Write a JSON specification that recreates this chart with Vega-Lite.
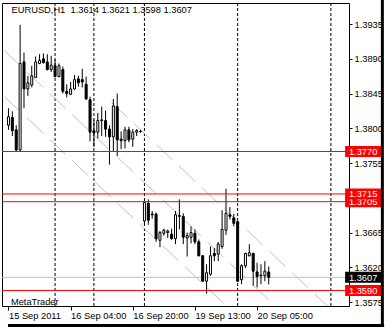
{
  "$schema": "https://vega.github.io/schema/vega-lite/v6.json",
  "width": 347,
  "height": 303,
  "autosize": {"type": "none"},
  "padding": {"left": 2, "top": 3, "right": 41, "bottom": 21},
  "background": "white",
  "config": {
    "view": {"stroke": "black", "strokeWidth": 1},
    "font": "Liberation Sans",
    "axis": {"labelFont": "Liberation Sans", "labelFontSize": 9.3, "labelColor": "black", "tickColor": "black", "domain": false, "grid": false, "labelOverlap": false, "labelBound": false, "labelFlush": false}
  },
  "datasets": {
    "candles": [
      {"i":0,"o":1.3804,"h":1.3826,"l":1.3798,"c":1.3815},
      {"i":1,"o":1.3814,"h":1.3822,"l":1.3790,"c":1.3797},
      {"i":2,"o":1.3798,"h":1.3804,"l":1.3770,"c":1.3772},
      {"i":3,"o":1.3772,"h":1.3934,"l":1.3770,"c":1.3884},
      {"i":4,"o":1.3886,"h":1.3898,"l":1.3826,"c":1.3851},
      {"i":5,"o":1.3851,"h":1.3868,"l":1.3842,"c":1.3859},
      {"i":6,"o":1.3856,"h":1.3881,"l":1.3853,"c":1.3868},
      {"i":7,"o":1.3866,"h":1.3893,"l":1.3865,"c":1.3886},
      {"i":8,"o":1.3884,"h":1.3896,"l":1.3883,"c":1.3888},
      {"i":9,"o":1.3890,"h":1.3897,"l":1.3884,"c":1.3885},
      {"i":10,"o":1.3886,"h":1.3896,"l":1.3875,"c":1.3876},
      {"i":11,"o":1.3876,"h":1.3894,"l":1.3873,"c":1.3882},
      {"i":12,"o":1.3881,"h":1.3889,"l":1.3866,"c":1.3867},
      {"i":13,"o":1.3867,"h":1.3884,"l":1.3866,"c":1.3881},
      {"i":14,"o":1.3876,"h":1.3880,"l":1.3845,"c":1.3848},
      {"i":15,"o":1.3848,"h":1.3857,"l":1.3840,"c":1.3845},
      {"i":16,"o":1.3844,"h":1.3860,"l":1.3843,"c":1.3851},
      {"i":17,"o":1.3851,"h":1.3869,"l":1.3850,"c":1.3863},
      {"i":18,"o":1.3864,"h":1.3868,"l":1.3854,"c":1.3859},
      {"i":19,"o":1.3863,"h":1.3877,"l":1.3853,"c":1.3860},
      {"i":20,"o":1.3857,"h":1.3867,"l":1.3837,"c":1.3838},
      {"i":21,"o":1.3837,"h":1.3841,"l":1.3783,"c":1.3795},
      {"i":22,"o":1.3797,"h":1.3811,"l":1.3776,"c":1.3794},
      {"i":23,"o":1.3795,"h":1.3820,"l":1.3787,"c":1.3810},
      {"i":24,"o":1.3810,"h":1.3828,"l":1.3790,"c":1.3811},
      {"i":25,"o":1.3810,"h":1.3823,"l":1.3789,"c":1.3799},
      {"i":26,"o":1.3799,"h":1.3804,"l":1.3753,"c":1.3789},
      {"i":27,"o":1.3789,"h":1.3838,"l":1.3770,"c":1.3829},
      {"i":28,"o":1.3828,"h":1.3845,"l":1.3764,"c":1.3785},
      {"i":29,"o":1.3786,"h":1.3796,"l":1.3773,"c":1.3784},
      {"i":30,"o":1.3784,"h":1.3802,"l":1.3774,"c":1.3798},
      {"i":31,"o":1.3798,"h":1.3802,"l":1.3782,"c":1.3785},
      {"i":32,"o":1.3786,"h":1.3799,"l":1.3776,"c":1.3795},
      {"i":33,"o":1.3795,"h":1.3799,"l":1.3790,"c":1.3797},
      {"i":34,"o":1.3796,"h":1.3798,"l":1.3794,"c":1.3796},
      {"i":35,"o":1.3680,"h":1.3706,"l":1.3675,"c":1.3704},
      {"i":36,"o":1.3703,"h":1.3708,"l":1.3675,"c":1.3681},
      {"i":37,"o":1.3689,"h":1.3693,"l":1.3683,"c":1.3688},
      {"i":38,"o":1.3689,"h":1.3691,"l":1.3653,"c":1.3657},
      {"i":39,"o":1.3655,"h":1.3667,"l":1.3646,"c":1.3665},
      {"i":40,"o":1.3664,"h":1.3670,"l":1.3661,"c":1.3668},
      {"i":41,"o":1.3665,"h":1.3669,"l":1.3658,"c":1.3667},
      {"i":42,"o":1.3663,"h":1.3670,"l":1.3656,"c":1.3657},
      {"i":43,"o":1.3657,"h":1.3693,"l":1.3650,"c":1.3688},
      {"i":44,"o":1.3687,"h":1.3708,"l":1.3669,"c":1.3686},
      {"i":45,"o":1.3686,"h":1.3690,"l":1.3650,"c":1.3659},
      {"i":46,"o":1.3658,"h":1.3665,"l":1.3634,"c":1.3661},
      {"i":47,"o":1.3659,"h":1.3673,"l":1.3651,"c":1.3665},
      {"i":48,"o":1.3664,"h":1.3669,"l":1.3650,"c":1.3653},
      {"i":49,"o":1.3653,"h":1.3656,"l":1.3634,"c":1.3635},
      {"i":50,"o":1.3635,"h":1.3636,"l":1.3601,"c":1.3602},
      {"i":51,"o":1.3602,"h":1.3624,"l":1.3586,"c":1.3613},
      {"i":52,"o":1.3611,"h":1.3647,"l":1.3609,"c":1.3635},
      {"i":53,"o":1.3638,"h":1.3645,"l":1.3628,"c":1.3635},
      {"i":54,"o":1.3637,"h":1.3653,"l":1.3628,"c":1.3650},
      {"i":55,"o":1.3647,"h":1.3694,"l":1.3644,"c":1.3669},
      {"i":56,"o":1.3668,"h":1.3722,"l":1.3662,"c":1.3690},
      {"i":57,"o":1.3688,"h":1.3698,"l":1.3682,"c":1.3686},
      {"i":58,"o":1.3684,"h":1.3689,"l":1.3673,"c":1.3677},
      {"i":59,"o":1.3679,"h":1.3680,"l":1.3601,"c":1.3602},
      {"i":60,"o":1.3604,"h":1.3624,"l":1.3598,"c":1.3622},
      {"i":61,"o":1.3622,"h":1.3639,"l":1.3619,"c":1.3638},
      {"i":62,"o":1.3635,"h":1.3650,"l":1.3634,"c":1.3639},
      {"i":63,"o":1.3638,"h":1.3639,"l":1.3596,"c":1.3615},
      {"i":64,"o":1.3614,"h":1.3626,"l":1.3594,"c":1.3608},
      {"i":65,"o":1.3609,"h":1.3624,"l":1.3598,"c":1.3610},
      {"i":66,"o":1.3609,"h":1.3628,"l":1.3602,"c":1.3615},
      {"i":67,"o":1.3614,"h":1.3621,"l":1.3598,"c":1.3607}
    ],
    "levels": [
      {"price":1.3607,"kind":"bid"},
      {"price":1.3590,"kind":"level"},
      {"price":1.3770,"kind":"level"},
      {"price":1.3705,"kind":"level"},
      {"price":1.3715,"kind":"level"}
    ],
    "seps": [{"i":12},{"i":22},{"i":35},{"i":59},{"i":83}],
    "channel": [
      {"line":"upper","i":26.5,"p":1.38336},
      {"line":"upper","i":90,"p":1.35326},
      {"line":"middle","i":-1,"p":1.39003},
      {"line":"middle","i":90,"p":1.34689},
      {"line":"lower","i":-1,"p":1.38408},
      {"line":"lower","i":90,"p":1.34095}
    ]
  },
  "layer": [
    {
      "data": {"name": "seps"},
      "mark": {"type": "rule", "color": "black", "strokeWidth": 1, "strokeDash": [3, 2]},
      "encoding": {
        "x": {"field": "i", "type": "quantitative", "title": null, "scale": {"domain": [-0.375, 86.375], "nice": false, "zero": false}}
      }
    },
    {
      "data": {"name": "channel"},
      "mark": {"type": "line", "color": "#c0c0c0", "strokeWidth": 1, "strokeDash": [22, 9], "clip": true},
      "encoding": {
        "x": {"field": "i", "type": "quantitative", "title": null, "scale": {"domain": [-0.375, 86.375], "nice": false, "zero": false}},
        "y": {"field": "p", "type": "quantitative", "title": null, "scale": {"domain": [1.35699, 1.39623], "nice": false, "zero": false}},
        "detail": {"field": "line"}
      }
    },
    {
      "data": {"name": "levels"},
      "transform": [{"filter": "datum.kind == 'bid'"}],
      "mark": {"type": "rule", "color": "#c0c0c0", "strokeWidth": 1},
      "encoding": {
        "y": {"field": "price", "type": "quantitative", "title": null, "scale": {"domain": [1.35699, 1.39623], "nice": false, "zero": false}}
      }
    },
    {
      "data": {"name": "candles"},
      "mark": {"type": "rule", "color": "black", "strokeWidth": 1},
      "encoding": {
        "x": {"field": "i", "type": "quantitative", "title": null, "scale": {"domain": [-0.375, 86.375], "nice": false, "zero": false}},
        "y": {"field": "l", "type": "quantitative", "title": null, "scale": {"domain": [1.35699, 1.39623], "nice": false, "zero": false}},
        "y2": {"field": "h"}
      }
    },
    {
      "data": {"name": "candles"},
      "mark": {"type": "bar", "width": 2, "stroke": "black", "strokeWidth": 1},
      "encoding": {
        "x": {"field": "i", "type": "quantitative", "title": null, "scale": {"domain": [-0.375, 86.375], "nice": false, "zero": false},
          "axis": {"values": [0, 16, 32, 48, 64], "tickCount": 20, "labelExpr": "datum.value == 0 ? '15 Sep 2011' : datum.value == 16 ? '16 Sep 04:00' : datum.value == 32 ? '16 Sep 20:00' : datum.value == 48 ? '19 Sep 13:00' : '20 Sep 05:00'", "labelAlign": "left", "labelBaseline": "top", "tickSize": 4, "labelPadding": 1, "labelOverlap": false, "labelBound": false, "labelFlush": false}},
        "y": {"field": "o", "type": "quantitative", "title": null, "scale": {"domain": [1.35699, 1.39623], "nice": false, "zero": false},
          "axis": {"orient": "right", "values": [1.3575, 1.362, 1.3665, 1.371, 1.3755, 1.38, 1.3845, 1.389, 1.3935], "tickCount": 20, "format": ".4f", "tickSize": 3, "labelPadding": 2, "labelOverlap": false, "labelBound": false, "labelFlush": false}},
        "y2": {"field": "c"},
        "fill": {"condition": {"test": "datum.c < datum.o", "value": "black"}, "value": "white"}
      }
    },
    {
      "data": {"name": "levels"},
      "transform": [{"filter": "datum.kind == 'level'"}],
      "mark": {"type": "rule", "color": "#ff0000", "strokeWidth": 1},
      "encoding": {
        "y": {"field": "price", "type": "quantitative", "title": null, "scale": {"domain": [1.35699, 1.39623], "nice": false, "zero": false}}
      }
    },
    {
      "data": {"name": "levels"},
      "transform": [{"filter": "datum.price != 1.3715"}],
      "layer": [
        {
          "mark": {"type": "point", "shape": "M-1.8,-0.55L1.8,-0.55L1.8,0.55L-1.8,0.55Z", "size": 400, "filled": true, "opacity": 1, "strokeWidth": 0},
          "encoding": {
            "x": {"datum": 91.3, "type": "quantitative", "title": null, "scale": {"domain": [-0.375, 86.375], "nice": false, "zero": false}},
            "y": {"field": "price", "type": "quantitative", "title": null, "scale": {"domain": [1.35699, 1.39623], "nice": false, "zero": false}},
            "color": {"field": "kind", "type": "nominal", "legend": null, "scale": {"domain": ["level", "bid"], "range": ["#ff0000", "#000000"]}}
          }
        },
        {
          "mark": {"type": "text", "color": "white", "font": "Liberation Sans", "fontSize": 9.3, "align": "center", "baseline": "middle", "dy": 0.5},
          "encoding": {
            "x": {"datum": 91.3, "type": "quantitative", "title": null, "scale": {"domain": [-0.375, 86.375], "nice": false, "zero": false}},
            "y": {"field": "price", "type": "quantitative", "title": null, "scale": {"domain": [1.35699, 1.39623], "nice": false, "zero": false}},
            "text": {"field": "price", "type": "quantitative", "format": ".4f"}
          }
        }
      ]
    },
    {
      "data": {"name": "levels"},
      "transform": [{"filter": "datum.price == 1.3715"}],
      "layer": [
        {
          "mark": {"type": "point", "shape": "M-1.8,-0.55L1.8,-0.55L1.8,0.55L-1.8,0.55Z", "size": 400, "filled": true, "opacity": 1, "strokeWidth": 0, "color": "#ff0000"},
          "encoding": {
            "x": {"datum": 91.3, "type": "quantitative", "title": null, "scale": {"domain": [-0.375, 86.375], "nice": false, "zero": false}},
            "y": {"field": "price", "type": "quantitative", "title": null, "scale": {"domain": [1.35699, 1.39623], "nice": false, "zero": false}}
          }
        },
        {
          "mark": {"type": "text", "color": "white", "font": "Liberation Sans", "fontSize": 9.3, "align": "center", "baseline": "middle", "dy": 0.5},
          "encoding": {
            "x": {"datum": 91.3, "type": "quantitative", "title": null, "scale": {"domain": [-0.375, 86.375], "nice": false, "zero": false}},
            "y": {"field": "price", "type": "quantitative", "title": null, "scale": {"domain": [1.35699, 1.39623], "nice": false, "zero": false}},
            "text": {"field": "price", "type": "quantitative", "format": ".4f"}
          }
        }
      ]
    },
    {
      "data": {"values": [{"t": "EURUSD,H1\u00a0 1.3614 1.3621 1.3598 1.3607"}]},
      "mark": {"type": "text", "color": "black", "font": "Liberation Sans", "fontSize": 9.3, "align": "left", "baseline": "middle"},
      "encoding": {
        "x": {"datum": 0.8, "type": "quantitative", "title": null, "scale": {"domain": [-0.375, 86.375], "nice": false, "zero": false}},
        "y": {"datum": 1.39532, "type": "quantitative", "title": null, "scale": {"domain": [1.35699, 1.39623], "nice": false, "zero": false}},
        "text": {"field": "t"}
      }
    },
    {
      "data": {"values": [{"t": "MetaTrader"}]},
      "mark": {"type": "text", "color": "black", "font": "Liberation Sans", "fontSize": 9.3, "align": "left", "baseline": "middle"},
      "encoding": {
        "x": {"datum": 0.625, "type": "quantitative", "title": null, "scale": {"domain": [-0.375, 86.375], "nice": false, "zero": false}},
        "y": {"datum": 1.35755, "type": "quantitative", "title": null, "scale": {"domain": [1.35699, 1.39623], "nice": false, "zero": false}},
        "text": {"field": "t"}
      }
    },
    {
      "data": {"values": [{"edge": "right"}]},
      "mark": {"type": "rule", "color": "black", "strokeWidth": 3, "clip": false},
      "encoding": {
        "x": {"datum": 96.25, "type": "quantitative", "title": null, "scale": {"domain": [-0.375, 86.375], "nice": false, "zero": false}},
        "y": {"datum": 1.39662, "type": "quantitative", "title": null, "scale": {"domain": [1.35699, 1.39623], "nice": false, "zero": false}},
        "y2": {"datum": 1.35427}
      }
    },
    {
      "data": {"values": [{"edge": "bottom"}]},
      "mark": {"type": "rule", "color": "black", "strokeWidth": 3, "clip": false},
      "encoding": {
        "y": {"datum": 1.35447, "type": "quantitative", "title": null, "scale": {"domain": [1.35699, 1.39623], "nice": false, "zero": false}},
        "x": {"datum": -0.125, "type": "quantitative", "title": null, "scale": {"domain": [-0.375, 86.375], "nice": false, "zero": false}},
        "x2": {"datum": 96.7}
      }
    }
  ]
}
